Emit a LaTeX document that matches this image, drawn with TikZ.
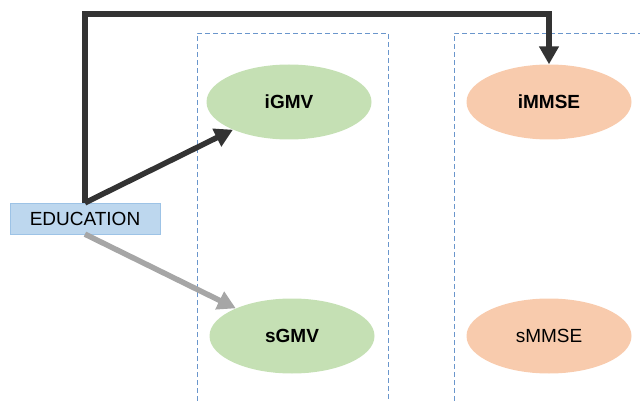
\documentclass[tikz,border=0pt]{standalone}
\usepackage{fontspec}
\setmainfont{Liberation Sans}
\usetikzlibrary{arrows.meta,shapes.geometric}
\definecolor{ink}{HTML}{333333}
\definecolor{grey}{HTML}{A6A6A6}
\definecolor{leaf}{HTML}{C5E0B4}
\definecolor{peach}{HTML}{F8CBAD}
\definecolor{sky}{HTML}{BDD7EE}
\definecolor{skyline}{HTML}{9DC3E6}
\definecolor{frame}{HTML}{6A96CC}

\begin{document}
\begin{tikzpicture}[x=1pt,y=-1pt,font=\fontsize{19}{22}\selectfont,
  blob/.style={ellipse,minimum width=165pt,minimum height=75pt,inner sep=0pt},
  conn/.style={line width=5.5pt,-{Triangle[length=18pt,width=19pt]}}]
  \useasboundingbox (0,0) rectangle (640,401);
  % dashed groups
  \draw[frame,dash pattern=on 5pt off 3pt,line width=.7pt] (197,401)--(197,33)--(388,33)--(388,401);
  \draw[frame,dash pattern=on 5pt off 3pt,line width=.7pt] (454,401)--(454,33)--(640,33);
  \node[blob,fill=leaf,font=\fontsize{19}{22}\selectfont\bfseries] (igmv) at (289,102) {iGMV};
  \node[blob,fill=leaf,font=\fontsize{19}{22}\selectfont\bfseries] (sgmv) at (292,336) {sGMV};
  \node[blob,fill=peach,font=\fontsize{19}{22}\selectfont\bfseries] (immse) at (549,102) {iMMSE};
  \node[blob,fill=peach] (smmse) at (549,336) {sMMSE};
  \node[fill=sky,draw=skyline,minimum width=150pt,minimum height=31pt,inner sep=0pt]
    (edu) at (85,218.5) {EDUCATION};
  \coordinate (top) at (85,14);
  \draw[conn,ink,line join=miter] (edu.north) -- (top) -| (immse.north);
  \draw[conn,ink] (edu.north) -- (igmv);
  \draw[conn,grey] (edu.south) -- (sgmv);
\end{tikzpicture}
\end{document}
